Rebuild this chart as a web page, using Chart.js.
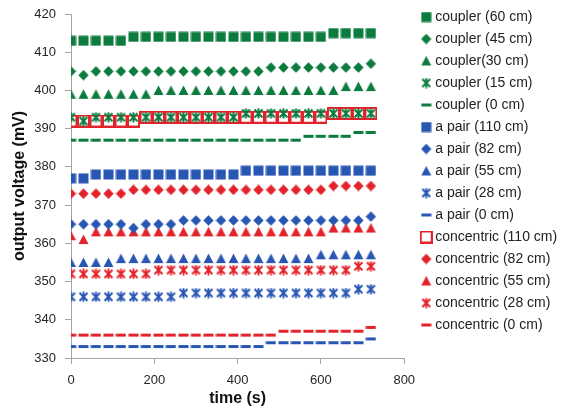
<!DOCTYPE html>
<html>
<head>
<meta charset="utf-8">
<script src="https://cdn.jsdelivr.net/npm/chart.js@4.4.1/dist/chart.umd.min.js"></script>
<style>
  html, body { margin: 0; padding: 0; background: #fff; }
  #wrap { width: 567px; height: 410px; }
</style>
</head>
<body>
<div id="wrap"><canvas id="voltChart" width="567" height="410"></canvas></div>
<script>
// time (s), one reading every 30 s
const times = [0, 30, 60, 90, 120, 150, 180, 210, 240, 270, 300, 330, 360, 390, 420, 450, 480, 510, 540, 570, 600, 630, 660, 690, 720];

// output voltage (mV)
const coupler60 = [413, 413, 413, 413, 413, 414, 414, 414, 414, 414, 414, 414, 414, 414, 414, 414, 414, 414, 414, 414, 414, 415, 415, 415, 415];
const coupler45 = [405, 404, 405, 405, 405, 405, 405, 405, 405, 405, 405, 405, 405, 405, 405, 405, 406, 406, 406, 406, 406, 406, 406, 406, 407];
const coupler30 = [399, 399, 399, 399, 399, 399, 399, 400, 400, 400, 400, 400, 400, 400, 400, 400, 400, 400, 400, 400, 400, 400, 401, 401, 401];
const coupler15 = [393, 392, 393, 393, 393, 393, 393, 393, 393, 393, 393, 393, 393, 393, 394, 394, 394, 394, 394, 394, 394, 394, 394, 394, 394];
const coupler0 = [387, 387, 387, 387, 387, 387, 387, 387, 387, 387, 387, 387, 387, 387, 387, 387, 387, 387, 387, 388, 388, 388, 388, 389, 389];
const pair110 = [377, 377, 378, 378, 378, 378, 378, 378, 378, 378, 378, 378, 378, 378, 379, 379, 379, 379, 379, 379, 379, 379, 379, 379, 379];
const pair82 = [365, 365, 365, 365, 365, 364, 365, 365, 365, 366, 366, 366, 366, 366, 366, 366, 366, 366, 366, 366, 366, 366, 366, 366, 367];
const pair55 = [355, 355, 355, 355, 356, 356, 356, 356, 356, 356, 356, 356, 356, 356, 356, 356, 356, 356, 356, 356, 357, 357, 357, 357, 357];
const pair28 = [346, 346, 346, 346, 346, 346, 346, 346, 346, 347, 347, 347, 347, 347, 347, 347, 347, 347, 347, 347, 347, 347, 347, 348, 348];
const pair0 = [333, 333, 333, 333, 333, 333, 333, 333, 333, 333, 333, 333, 333, 333, 333, 333, 334, 334, 334, 334, 334, 334, 334, 334, 335];
const concentric110 = [392, 392, 392, 392, 392, 392, 393, 393, 393, 393, 393, 393, 393, 393, 393, 393, 393, 393, 393, 393, 393, 394, 394, 394, 394];
const concentric82 = [373, 373, 373, 373, 373, 374, 374, 374, 374, 374, 374, 374, 374, 374, 374, 374, 374, 374, 374, 374, 374, 375, 375, 375, 375];
const concentric55 = [362, 361, 363, 363, 363, 363, 363, 363, 363, 363, 363, 363, 363, 363, 363, 363, 363, 363, 363, 363, 363, 364, 364, 364, 364];
const concentric28 = [352, 352, 352, 352, 352, 352, 352, 353, 353, 353, 353, 353, 353, 353, 353, 353, 353, 353, 353, 353, 353, 353, 353, 354, 354];
const concentric0 = [336, 336, 336, 336, 336, 336, 336, 336, 336, 336, 336, 336, 336, 336, 336, 336, 336, 337, 337, 337, 337, 337, 337, 337, 338];

const yTicks = [330, 340, 350, 360, 370, 380, 390, 400, 410, 420];
const xTicks = [0, 200, 400, 600, 800];

const GREEN = '#0b7b3e';
const BLUE = '#2856b3';
const RED = '#e3232b';

// Excel-like marker drawn once into a small canvas, used as pointStyle
function makeMarker(shape, color) {
    const c = document.createElement('canvas');
    const s = shape === 'box' ? 13 : 11;
    c.width = s;
    c.height = s;
    const g = c.getContext('2d');
    g.fillStyle = color;
    g.strokeStyle = color;
    const m = s / 2;
    g.beginPath();
    switch (shape) {
        case 'square':
            g.fillRect(0.5, 0.5, 10, 10);
            break;
        case 'diamond':
            g.moveTo(m, 0.3); g.lineTo(s - 0.3, m); g.lineTo(m, s - 0.3); g.lineTo(0.3, m);
            g.closePath(); g.fill();
            break;
        case 'triangle':
            g.moveTo(m, 0.5); g.lineTo(s - 0.5, s - 1); g.lineTo(0.5, s - 1);
            g.closePath(); g.fill();
            break;
        case 'star':
            g.lineWidth = 2;
            g.moveTo(1.5, 1.5); g.lineTo(s - 1.5, s - 1.5);
            g.moveTo(s - 1.5, 1.5); g.lineTo(1.5, s - 1.5);
            g.moveTo(m, 0.5); g.lineTo(m, s - 0.5);
            g.stroke();
            break;
        case 'dash':
            g.fillRect(0.5, m - 1.5, 10, 3);
            break;
        case 'box':
            g.lineWidth = 2;
            g.strokeRect(1, 1, s - 2, s - 2);
            break;
    }
    return c;
}

function series(label, values, shape, color) {
    return {
        label: label,
        data: times.map((t, i) => ({ x: t, y: values[i] })),
        pointStyle: makeMarker(shape, color),
        backgroundColor: color,
        borderColor: color,
        showLine: false
    };
}

// widen the legend box so the plot stops short of it, then push the items right
const LEGEND_EXTRA = 23;
const LEGEND_SHIFT = 12;
const legendGap = {
    id: 'legendGap',
    beforeInit(chart) {
        const fit = chart.legend.fit;
        chart.legend.fit = function () {
            fit.call(this);
            this.width += LEGEND_EXTRA;
        };
    },
    afterLayout(chart) {
        chart.legend.left += LEGEND_SHIFT;
    }
};

const tickFont = { family: 'Liberation Sans, Arial, sans-serif', size: 13 };
const titleFont = { family: 'Liberation Sans, Arial, sans-serif', size: 16, weight: 'bold' };
const axisGrey = '#a6a6a6';

new Chart(document.getElementById('voltChart'), {
    type: 'scatter',
    data: {
        datasets: [
            series('coupler (60 cm)', coupler60, 'square', GREEN),
            series('coupler (45 cm)', coupler45, 'diamond', GREEN),
            series('coupler(30 cm)', coupler30, 'triangle', GREEN),
            series('coupler (15 cm)', coupler15, 'star', GREEN),
            series('coupler (0 cm)', coupler0, 'dash', GREEN),
            series('a pair (110 cm)', pair110, 'square', BLUE),
            series('a pair (82 cm)', pair82, 'diamond', BLUE),
            series('a pair (55 cm)', pair55, 'triangle', BLUE),
            series('a pair (28 cm)', pair28, 'star', BLUE),
            series('a pair (0 cm)', pair0, 'dash', BLUE),
            series('concentric (110 cm)', concentric110, 'box', RED),
            series('concentric (82 cm)', concentric82, 'diamond', RED),
            series('concentric (55 cm)', concentric55, 'triangle', RED),
            series('concentric (28 cm)', concentric28, 'star', RED),
            series('concentric (0 cm)', concentric0, 'dash', RED)
        ]
    },
    options: {
        responsive: false,
        animation: false,
        devicePixelRatio: 1,
        layout: { padding: { top: 2, left: 8, right: 0, bottom: 0 } },
        scales: {
            x: {
                type: 'linear',
                min: xTicks[0],
                max: xTicks[xTicks.length - 1],
                afterBuildTicks: axis => { axis.ticks = xTicks.map(v => ({ value: v })); },
                afterFit: axis => { axis.height = 52; },
                grid: { drawOnChartArea: false, drawTicks: true, tickLength: 6, color: axisGrey },
                border: { display: true, color: axisGrey },
                ticks: { font: tickFont, color: '#262626', padding: 9, maxRotation: 0 },
                title: { display: true, text: 'time (s)', font: titleFont, color: '#111', padding: { top: 0, bottom: 2 } }
            },
            y: {
                min: yTicks[0],
                max: yTicks[yTicks.length - 1],
                afterBuildTicks: axis => { axis.ticks = yTicks.map(v => ({ value: v })); },
                afterFit: axis => { axis.width = 63; axis.paddingTop = 14; },
                grid: { drawOnChartArea: false, drawTicks: true, tickLength: 6, color: axisGrey },
                border: { display: true, color: axisGrey },
                ticks: { font: tickFont, color: '#262626', padding: 9 },
                title: { display: true, text: 'output voltage (mV)', font: titleFont, color: '#111', padding: { top: 2, bottom: 4 } }
            }
        },
        plugins: {
            legend: {
                position: 'right',
                align: 'start',
                labels: {
                    usePointStyle: true,
                    boxWidth: 4,
                    boxHeight: 10,
                    padding: 8,
                    color: '#222',
                    font: { family: 'Liberation Sans, Arial, sans-serif', size: 14 }
                }
            },
            tooltip: { enabled: false }
        }
    },
    plugins: [legendGap]
});
</script>
</body>
</html>
